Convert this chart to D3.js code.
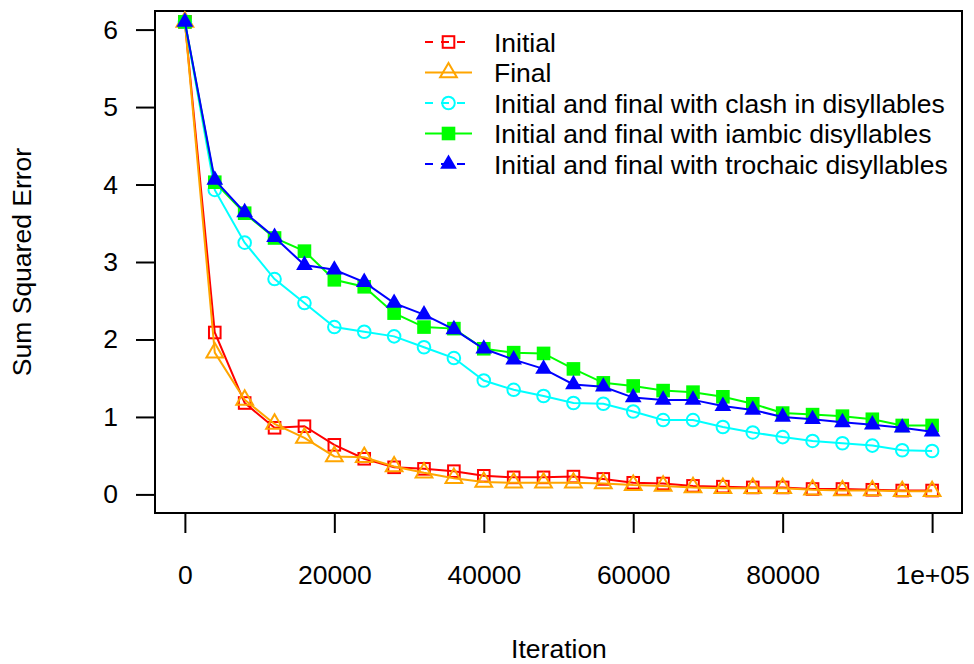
<!DOCTYPE html>
<html><head><meta charset="utf-8">
<script src="https://cdn.jsdelivr.net/npm/d3@7"></script>
<style>
body{margin:0;background:#fff}
svg{display:block}
text{font-family:"Liberation Sans",Arial,Helvetica,sans-serif}
</style>
</head><body>
<svg id="c" width="974" height="664"></svg>
<script>
const iterations = [0,4000,8000,12000,16000,20000,24000,28000,32000,36000,40000,44000,48000,52000,56000,60000,64000,68000,72000,76000,80000,84000,88000,92000,96000,100000];
const initialErr = [6.1,2.09,1.18,0.86,0.88,0.64,0.46,0.35,0.33,0.30,0.24,0.22,0.22,0.23,0.20,0.15,0.14,0.11,0.10,0.09,0.09,0.07,0.07,0.06,0.05,0.05];
const finalErr   = [6.1,1.83,1.22,0.91,0.73,0.49,0.48,0.36,0.28,0.21,0.16,0.15,0.15,0.15,0.14,0.12,0.11,0.09,0.08,0.08,0.08,0.06,0.05,0.05,0.04,0.04];
const clashErr   = [6.1,3.93,3.25,2.78,2.47,2.16,2.10,2.04,1.90,1.76,1.47,1.35,1.27,1.18,1.17,1.07,0.96,0.96,0.87,0.80,0.74,0.69,0.66,0.63,0.57,0.56];
const iambicErr  = [6.1,4.03,3.63,3.31,3.14,2.77,2.68,2.34,2.16,2.14,1.88,1.83,1.82,1.62,1.44,1.40,1.34,1.32,1.26,1.17,1.05,1.03,1.01,0.97,0.89,0.89];
const trochaicErr= [6.1,4.06,3.64,3.32,2.96,2.90,2.74,2.47,2.32,2.13,1.88,1.74,1.62,1.42,1.39,1.25,1.22,1.22,1.14,1.09,1.00,0.97,0.93,0.90,0.86,0.81];
const seriesNames = ["Initial","Final","Initial and final with clash in disyllables","Initial and final with iambic disyllables","Initial and final with trochaic disyllables"];
const xTicks = [0,20000,40000,60000,80000,100000];
const xTickLabels = ["0","20000","40000","60000","80000","1e+05"];
const yTicks = [0,1,2,3,4,5,6];

const seriesValues = [initialErr, finalErr, clashErr, iambicErr, trochaicErr];
const colors = ["#ff0000","#ffa500","#00ffff","#00ff00","#0000ff"];
const shapes = ["openSquare","openTriangle","openCircle","filledSquare","filledTriangle"];
const legendDashed = [true,false,true,false,true];
const FS = 26.5;

const svg = d3.select("#c");
const x = d3.scaleLinear().domain([-4000,104000]).range([155,962]);
const y = d3.scaleLinear().domain([-0.24,6.24]).range([513,11]);

function marker(g, shape, color, cx, cy){
  const tr = "translate(" + cx + "," + cy + ")";
  const R = 9.6, W = 8.35;
  if (shape === "openSquare") {
    g.append("rect").attr("x",cx-5.8).attr("y",cy-5.8).attr("width",11.6).attr("height",11.6)
      .attr("fill","none").attr("stroke",color).attr("stroke-width",2);
  } else if (shape === "filledSquare") {
    g.append("rect").attr("x",cx-6.8).attr("y",cy-6.8).attr("width",13.6).attr("height",13.6)
      .attr("fill",color);
  } else if (shape === "openCircle") {
    g.append("circle").attr("cx",cx).attr("cy",cy).attr("r",6.3)
      .attr("fill","none").attr("stroke",color).attr("stroke-width",2);
  } else {
    const p = "M0," + (-R) + "L" + W + "," + (R/2) + "L" + (-W) + "," + (R/2) + "Z";
    const t = g.append("path").attr("d",p).attr("transform",tr);
    if (shape === "openTriangle") t.attr("fill","none").attr("stroke",color).attr("stroke-width",2).attr("stroke-linejoin","miter");
    else t.attr("fill",color);
  }
}

// axes
const yAxis = d3.axisLeft(y).tickValues(yTicks).tickFormat(d3.format("d")).tickSize(19).tickSizeOuter(0).tickPadding(18);
const gy = svg.append("g").attr("transform","translate(155,0)").call(yAxis);
gy.select(".domain").remove();
gy.selectAll("line").attr("stroke","#000").attr("stroke-width",2);
gy.selectAll("text").attr("font-size",FS).attr("fill","#000").attr("font-family","Liberation Sans, Arial, sans-serif");

const xAxis = d3.axisBottom(x).tickValues(xTicks).tickFormat((d,i)=>xTickLabels[i]).tickSize(20).tickSizeOuter(0).tickPadding(32);
const gx = svg.append("g").attr("transform","translate(0,513)").call(xAxis);
gx.select(".domain").remove();
gx.selectAll("line").attr("stroke","#000").attr("stroke-width",2);
gx.selectAll("text").attr("font-size",FS).attr("fill","#000").attr("font-family","Liberation Sans, Arial, sans-serif");

// box
svg.append("rect").attr("x",155).attr("y",11).attr("width",807).attr("height",502)
  .attr("fill","none").attr("stroke","#000").attr("stroke-width",2);

// axis titles
svg.append("text").attr("x",559).attr("y",658).attr("text-anchor","middle").attr("font-size",FS).text("Iteration");
svg.append("text").attr("transform","translate(31,262) rotate(-90)").attr("text-anchor","middle").attr("font-size",FS).text("Sum Squared Error");

// series
const line = d3.line().x((d,i)=>x(iterations[i])).y(d=>y(d));
seriesValues.forEach((vals, s) => {
  const g = svg.append("g");
  g.append("path").datum(vals).attr("d",line).attr("fill","none").attr("stroke",colors[s]).attr("stroke-width",2);
  vals.forEach((v,i) => marker(g, shapes[s], colors[s], x(iterations[i]), y(v)));
});

// legend
const legendRows = [42,72.5,103,133.5,164];
seriesNames.forEach((name, s) => {
  const g = svg.append("g");
  const ly = legendRows[s];
  const ln = g.append("line").attr("x1",425).attr("x2",472).attr("y1",ly).attr("y2",ly)
    .attr("stroke",colors[s]).attr("stroke-width",2);
  if (legendDashed[s]) ln.attr("stroke-dasharray","8,8");
  marker(g, shapes[s], colors[s], 448.5, ly);
  g.append("text").attr("x",494).attr("y",ly+9.5).attr("font-size",FS).attr("fill","#000").text(name);
});
</script>
</body></html>
